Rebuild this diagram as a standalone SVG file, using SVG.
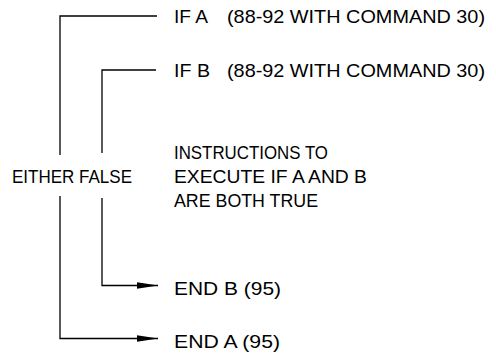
<svg xmlns="http://www.w3.org/2000/svg" width="496" height="354" viewBox="0 0 496 354">
<defs>
<style>
text{font-family:"Liberation Sans",Arial,sans-serif;font-size:19px;fill:#000}
.ln{fill:none;stroke:#000;stroke-width:1.3}
</style>
<marker id="ah" markerWidth="21" markerHeight="8" refX="21" refY="4" orient="auto" markerUnits="userSpaceOnUse">
<path d="M0,0.8 L21,4 L0,7.2 Z" fill="#000"/>
</marker>
</defs>
<rect width="496" height="354" fill="#fff"/>
<g id="connectors">
<path class="ln" d="M157,16 H60 V155"/>
<path class="ln" d="M60,196 V338.5 H158" marker-end="url(#ah)"/>
<path class="ln" d="M156,70 H102 V153"/>
<path class="ln" d="M102,198 V285.5 H158" marker-end="url(#ah)"/>
</g>
<g id="ifA"><text x="174" y="23" textLength="34" lengthAdjust="spacingAndGlyphs">IF A</text><text x="227" y="23" textLength="258" lengthAdjust="spacingAndGlyphs">(88-92 WITH COMMAND 30)</text></g>
<g id="ifB"><text x="174" y="77" textLength="36" lengthAdjust="spacingAndGlyphs">IF B</text><text x="227" y="77" textLength="258" lengthAdjust="spacingAndGlyphs">(88-92 WITH COMMAND 30)</text></g>
<g id="either"><text x="12" y="183" textLength="120" lengthAdjust="spacingAndGlyphs">EITHER FALSE</text></g>
<g id="instructions">
<text x="174" y="159" textLength="154" lengthAdjust="spacingAndGlyphs">INSTRUCTIONS TO</text>
<text x="174" y="183" textLength="193" lengthAdjust="spacingAndGlyphs">EXECUTE IF A AND B</text>
<text x="174" y="207" textLength="144" lengthAdjust="spacingAndGlyphs">ARE BOTH TRUE</text>
</g>
<g id="endB"><text x="174" y="295" textLength="107" lengthAdjust="spacingAndGlyphs">END B (95)</text></g>
<g id="endA"><text x="174" y="348" textLength="106" lengthAdjust="spacingAndGlyphs">END A (95)</text></g>
</svg>
